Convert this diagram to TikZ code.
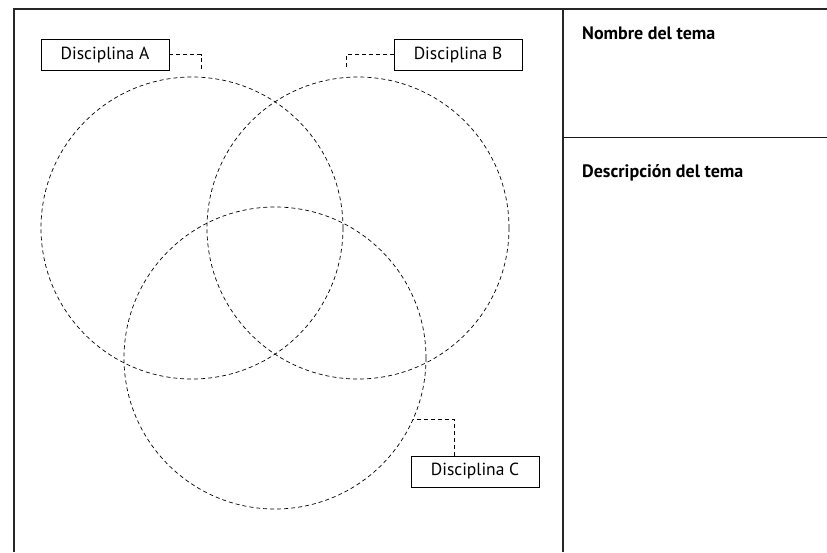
\documentclass[tikz,border=0pt]{standalone}
\usepackage{fontspec}
\setmainfont{PT Sans}
\begin{document}
\begin{tikzpicture}[x=1pt,y=-1pt,
  frame/.style={line width=1.3pt,draw=black!85},
  thinln/.style={line width=0.9pt,draw=black!90},
  dashln/.style={dash pattern=on 4pt off 3pt,line width=0.7pt},
  labelbox/.style={draw,line width=0.8pt,minimum width=128pt,minimum height=31pt,inner sep=0pt,font=\fontsize{17.5}{19}\selectfont},
  head/.style={anchor=base west,font=\bfseries\fontsize{18}{20}\selectfont,inner sep=0pt}]
\useasboundingbox (0,0) rectangle (827,552);
% frame
\draw[frame] (14,552) -- (14,9) -- (827,9);
\draw[frame] (563,9) -- (563,552);
\draw[thinln] (563,137) -- (827,137);
\node[head] (nt) at (582,39) {Nombre del tema};
\node[head] (dt) at (582,177) {Descripción del tema};
% circles
\draw[dashln] (192,228) circle[radius=151];
\draw[dashln] (358,228) circle[radius=151];
\draw[dashln] (275,358) circle[radius=151];
% labels
\node[labelbox] (la) at (105,54.8) {Disciplina A};
\node[labelbox] (lb) at (458,54.8) {Disciplina B};
\node[labelbox] (lc) at (475,471.5) {Disciplina C};
\coordinate (ea) at (201,70);
\coordinate (eb) at (346,70);
\coordinate (ec) at (413,419);
\draw[dashln] (la.east) -| (ea);
\draw[dashln] (lb.west) -| (eb);
\draw[dashln] ([xshift=-20.5pt]lc.north) |- (ec);
\end{tikzpicture}
\end{document}
